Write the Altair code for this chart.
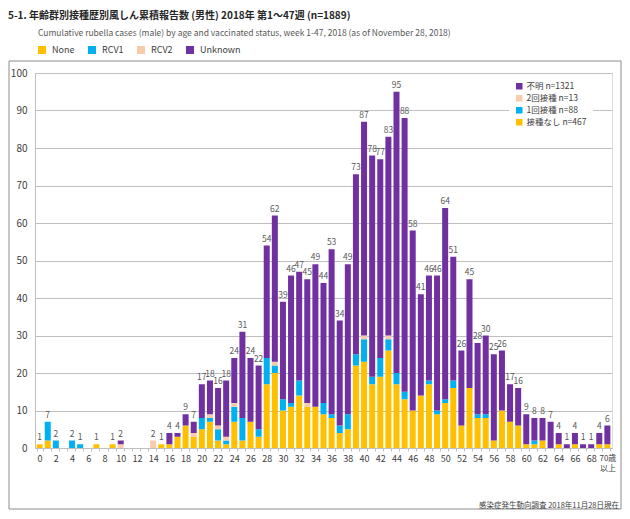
import altair as alt
import pandas as pd

# ---------------- data ----------------
ages = list(range(71))
none_v = [1, 2, 0, 0, 0, 0, 0, 1, 0, 1, 0,
          0, 0, 0, 0, 1, 1, 3, 6, 3, 5,
          7, 2, 1, 7, 2, 7, 3, 17, 20, 10,
          11, 14, 11, 11, 9, 8, 4, 5, 22, 23,
          17, 19, 26, 17, 13, 10, 14, 17, 9, 12,
          16, 6, 16, 8, 8, 2, 10, 7, 6, 1,
          1, 2, 0, 1, 0, 1, 0, 0, 1, 1]
rcv1_v = [0, 5, 2, 0, 2, 1, 0, 0, 0, 0, 0,
          0, 0, 0, 0, 0, 0, 0, 0, 0, 3,
          1, 3, 1, 4, 6, 0, 2, 7, 2, 3,
          1, 4, 0, 0, 3, 1, 2, 4, 3, 6,
          2, 5, 3, 3, 2, 0, 0, 1, 1, 1,
          2, 0, 0, 1, 1, 0, 0, 0, 0, 0,
          1, 0, 0, 0, 0, 0, 0, 0, 0, 0]
rcv2_v = [0, 0, 0, 0, 0, 0, 0, 0, 0, 0, 1,
          0, 0, 0, 2, 0, 0, 0, 0, 1, 0,
          1, 1, 1, 1, 0, 0, 0, 0, 1, 0,
          0, 0, 1, 0, 0, 0, 0, 0, 0, 1,
          0, 0, 1, 0, 0, 0, 0, 0, 0, 0,
          0, 0, 0, 0, 0, 0, 0, 0, 0, 0,
          0, 0, 0, 0, 0, 0, 0, 0, 0, 0]
unknown_v = [0, 0, 0, 0, 0, 0, 0, 0, 0, 0, 1,
             0, 0, 0, 0, 0, 3, 1, 3, 3, 9,
             9, 10, 15, 12, 23, 17, 17, 30, 39, 26,
             34, 29, 33, 38, 32, 44, 28, 40, 48, 57,
             59, 53, 53, 75, 73, 48, 27, 28, 36, 51,
             33, 20, 29, 19, 21, 23, 16, 10, 10, 8,
             6, 6, 7, 3, 1, 3, 1, 1, 3, 5]

categories = ["None", "RCV1", "RCV2", "Unknown"]
cat_colors = ["#FFC000", "#00B0F0", "#F8CBAD", "#7030A0"]
jp_labels = ["不明 n=1321", "2回接種 n=13", "1回接種 n=88", "接種なし n=467"]
jp_colors = ["#7030A0", "#F8CBAD", "#00B0F0", "#FFC000"]
y_ticks = list(range(0, 101, 10))

title_text = "5-1. 年齢群別接種歴別風しん累積報告数 (男性)  2018年 第1～47週 (n=1889)"
subtitle_text = ("Cumulative rubella cases (male) by age and vaccinated status, "
                 "week 1-47, 2018 (as of November 28, 2018)")
source_text = "感染症発生動向調査 2018年11月28日現在"

rows = []
for i, a in enumerate(ages):
    for k, (c, vals) in enumerate(zip(categories, [none_v, rcv1_v, rcv2_v, unknown_v])):
        rows.append({"age": a, "cat": c, "k": k, "n": vals[i]})
df = pd.DataFrame(rows)

FONT = "Noto Sans CJK JP"
W, H = 577, 375

x_scale = alt.Scale(paddingInner=0.26, paddingOuter=0.2)
y_scale = alt.Scale(domain=[0, 100], nice=False)


def x_axis():
    return alt.Axis(
        title=None, labelAngle=0, labelOverlap=False,
        labelFontSize={"condition": {"test": "datum.value == 70", "value": 8}, "value": 9},
        labelColor="#404040", labelFont=FONT, domainColor="#BFBFBF",
        tickColor="#BFBFBF", tickSize=3, tickBand="extent", labelPadding=3,
        labelExpr="datum.value == 70 ? ['70歳','以上'] : (datum.value % 2 == 0 ? datum.label : '')",
    )


def y_axis():
    return alt.Axis(
        title=None, values=y_ticks, labelOverlap=False,
        grid=True, gridColor="#BFBFBF", gridWidth=1, domainColor="#BFBFBF",
        ticks=False, labelFontSize=10, labelColor="#404040",
        labelFont=FONT, labelPadding=8,
    )


bars = alt.Chart(df).mark_bar().encode(
    x=alt.X("age:O", scale=x_scale, axis=x_axis()),
    y=alt.Y("n:Q", stack="zero", scale=y_scale, axis=y_axis()),
    color=alt.Color(
        "cat:N",
        scale=alt.Scale(domain=categories, range=cat_colors),
        legend=alt.Legend(
            title=None, orient="none", legendX=2, legendY=-28,
            direction="horizontal", columns=4, gridAlign="none",
            columnPadding=12, symbolType="square", symbolSize=64,
            labelFontSize=9, labelFont=FONT, labelColor="#404040",
            labelOffset=5,
        ),
    ),
    order=alt.Order("k:Q", sort="ascending"),
)

totals = alt.Chart(df).transform_aggregate(
    total="sum(n)", groupby=["age"]
).transform_filter("datum.total > 0").mark_text(
    dy=-7, fontSize=8.5, color="#595959", font=FONT
).encode(
    x=alt.X("age:O", scale=x_scale, axis=x_axis()),
    y=alt.Y("total:Q", scale=y_scale, axis=y_axis()),
    text=alt.Text("total:Q"),
)

jp_df = pd.DataFrame({"jl": jp_labels})
inner_legend = alt.Chart(jp_df).mark_square(size=0, opacity=0).encode(
    fill=alt.Fill(
        "jl:N",
        scale=alt.Scale(domain=jp_labels, range=jp_colors),
        legend=alt.Legend(
            title=None, orient="none", legendX=474, legendY=3,
            direction="vertical", fillColor="white", padding=6,
            symbolType="square", symbolSize=42, symbolOpacity=1,
            labelFontSize=8.5, labelFont=FONT, labelColor="#404040",
            rowPadding=3, labelOffset=3,
        ),
    )
)

frame = alt.Chart(pd.DataFrame({"f": [0]})).mark_rect(
    fillOpacity=0, stroke="#8C8C8C", strokeWidth=1
).encode(
    x=alt.value(-26), x2=alt.value(586), y=alt.value(-12), y2=alt.value(436)
)

title = alt.Chart(pd.DataFrame({"t": [title_text]})).mark_text(
    align="left", baseline="alphabetic", fontSize=10, fontWeight="bold",
    font=FONT, color="#262626"
).encode(text="t:N", x=alt.value(-27), y=alt.value(-54))

subtitle = alt.Chart(pd.DataFrame({"t": [subtitle_text]})).mark_text(
    align="left", baseline="alphabetic", fontSize=8.5, font=FONT,
    color="#595959"
).encode(text="t:N", x=alt.value(3), y=alt.value(-37))

source = alt.Chart(pd.DataFrame({"t": [source_text]})).mark_text(
    align="right", baseline="middle", fontSize=7.5, font=FONT,
    color="#404040"
).encode(text="t:N", x=alt.value(584), y=alt.value(433))

chart = alt.layer(frame, bars, totals, inner_legend, title, subtitle, source).properties(
    width=W, height=H,
    autosize=alt.AutoSizeParams(type="none"),
    padding={"left": 27, "top": 65, "right": 10, "bottom": 63},
).configure_view(stroke=None).configure(background="white")

chart.save("out.html", embed_options={"renderer": "svg", "actions": False})
